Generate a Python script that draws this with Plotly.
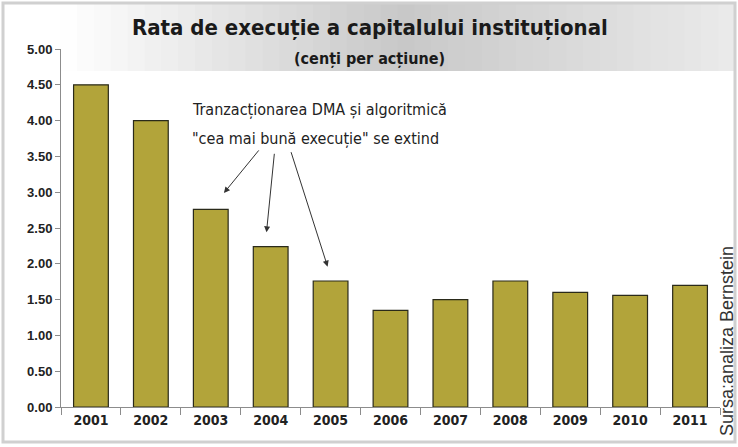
import plotly.graph_objects as go

years = ["2001", "2002", "2003", "2004", "2005", "2006", "2007", "2008", "2009", "2010", "2011"]
rates = [4.50, 4.00, 2.76, 2.24, 1.76, 1.35, 1.50, 1.76, 1.60, 1.56, 1.70]
y_ticks = [0, 0.5, 1, 1.5, 2, 2.5, 3, 3.5, 4, 4.5, 5]

title = "Rata de execuție a capitalului instituțional"
subtitle = "(cenți per acțiune)"
note1 = "Tranzacționarea DMA și algoritmică"
note2 = "\"cea mai bună execuție\" se extind"
source = "Sursa:analiza Bernstein"

COND = "DejaVu Sans Condensed"

W, H = 738, 447
L, R, T, B = 61, 18, 49, 40
pw, ph = W - L - R, H - T - B

def px(x):
    return (x - L) / pw

def py(y):
    return (H - B - y) / ph

fig = go.Figure()
fig.add_trace(go.Bar(
    x=years, y=rates,
    marker=dict(color="#B2A43A", line=dict(color="#2a2a1a", width=1.2)),
    hoverinfo="x+y",
))

shapes = []
n = 40
x0, x1 = 60, 735
for i in range(n):
    xa = x0 + (x1 - x0) * i / n
    xb = x0 + (x1 - x0) * (i + 1) / n + 1
    t = (i + 0.5) / n
    if t < 0.5:
        g = 255 - int((255 - 200) * (t / 0.5))
    else:
        g = 200 + int((235 - 200) * ((t - 0.5) / 0.5))
    shapes.append(dict(type="rect", xref="paper", yref="paper",
                       x0=px(xa), x1=px(xb), y0=py(71), y1=py(4),
                       fillcolor=f"rgb({g},{g},{g})", line=dict(width=0), layer="below"))
shapes.append(dict(type="rect", xref="paper", yref="paper",
                   x0=px(3), x1=px(735), y0=py(442), y1=py(3),
                   line=dict(color="#d0d0d0", width=3), fillcolor="rgba(0,0,0,0)", layer="below"))

annotations = [
    dict(text=title, xref="paper", yref="paper", x=px(370), y=py(28), showarrow=False,
         font=dict(family=COND, size=22, color="#1a1a1a", weight="bold"),
         xanchor="center", yanchor="middle"),
    dict(text=subtitle, xref="paper", yref="paper", x=px(369), y=py(58), showarrow=False,
         font=dict(family=COND, size=16, color="#1a1a1a", weight="bold"),
         xanchor="center", yanchor="middle"),
    dict(text=note1, xref="paper", yref="paper", x=px(190), y=py(110), showarrow=False,
         font=dict(family=COND, size=16, color="#222222"),
         xanchor="left", yanchor="middle"),
    dict(text=note2, xref="paper", yref="paper", x=px(190), y=py(138), showarrow=False,
         font=dict(family=COND, size=16, color="#222222"),
         xanchor="left", yanchor="middle"),
    dict(text=source, xref="paper", yref="paper", x=px(727), y=py(341), showarrow=False,
         textangle=-90, font=dict(family="Liberation Sans", size=18, color="#333333"),
         xanchor="center", yanchor="middle"),
]
arrows = [
    (2.22, 2.99, 36, -44),
    (2.93, 2.44, 8, -80),
    (3.95, 1.96, -37, -116),
]
for xt, yt, ax, ay in arrows:
    annotations.append(dict(x=xt, y=yt, xref="x", yref="y", ax=ax, ay=ay, text="",
                            showarrow=True, arrowhead=2, arrowsize=1.2, arrowwidth=1,
                            arrowcolor="#333333"))

fig.update_layout(
    width=W, height=H,
    margin=dict(l=L, r=R, t=T, b=B, autoexpand=False),
    paper_bgcolor="white", plot_bgcolor="white",
    bargap=0.42,
    showlegend=False,
    shapes=shapes,
    annotations=annotations,
    font=dict(family="Liberation Sans", color="#222222"),
)
fig.update_yaxes(
    range=[0, 5], tickvals=y_ticks, tickformat=".2f", automargin=False,
    showgrid=False, zeroline=False,
    showline=True, linecolor="#8c8c8c", linewidth=1,
    ticks="outside", ticklen=5, tickcolor="#8c8c8c",
    tickfont=dict(family="Liberation Sans", size=13, color="#222222", weight="bold"),
)
fig.update_xaxes(
    showgrid=False, showline=True, linecolor="#8c8c8c", linewidth=1, automargin=False,
    ticks="outside", ticklen=7, tickcolor="#8c8c8c", tickson="boundaries",
    tickfont=dict(family=COND, size=14, color="#222222", weight="bold"),
    range=[-0.5, len(years) - 0.5],
)

fig.write_html("out.html", config={"displayModeBar": False},
               post_script="document.body.style.margin='0px';")
